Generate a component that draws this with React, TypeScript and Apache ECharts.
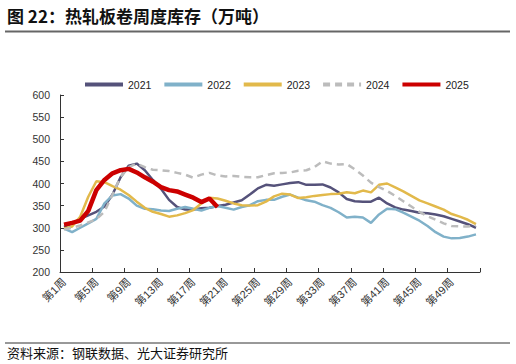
import React, { useEffect, useRef } from "react";
import * as echarts from "echarts";

const weeks: string[] = Array.from({ length: 52 }, (_, i) => `第${i + 1}周`);

const s2021 = [302, 310, 320, 328, 336, 348, 375, 414, 440, 445, 430, 408, 388, 363, 347, 341, 341, 344, 345, 349,
  352, 357, 362, 375, 389, 397, 395, 398, 401, 403, 397, 397, 398, 391, 380, 365, 360, 359, 359, 368,
  355, 346, 341, 338, 334, 333, 330, 326, 320, 314, 308, 300];
const s2022 = [298, 290, 300, 310, 320, 355, 373, 376, 366, 350, 343, 342, 339, 338, 343, 347, 343, 339, 345, 349,
  345, 341, 347, 351, 360, 363, 363, 370, 375, 368, 362, 359, 351, 345, 335, 323, 325, 323, 311, 330,
  343, 342, 334, 325, 316, 304, 290, 280, 276, 277, 280, 285];
const s2023 = [298, 303, 325, 370, 405, 403, 394, 386, 374, 359, 345, 336, 331, 325, 328, 333, 340, 355, 368, 366,
  361, 355, 351, 350, 351, 359, 371, 377, 375, 367, 369, 372, 374, 376, 377, 380, 378, 384, 380, 397,
  400, 391, 382, 372, 362, 355, 348, 341, 331, 325, 318, 308];
const s2024 = [296, 300, 305, 312, 319, 336, 375, 415, 437, 445, 437, 431, 430, 428, 424, 420, 413, 420, 424, 418,
  416, 417, 415, 414, 414, 419, 423, 424, 425, 429, 430, 437, 450, 445, 443, 444, 432, 418, 402, 392,
  383, 372, 360, 348, 336, 326, 318, 310, 304, 303, 303, 305];
const s2025 = [307, 311, 316, 338, 385, 408, 423, 430, 433, 425, 414, 404, 392, 385, 382, 375, 368, 358, 366, 347];

const yearNames = ["2021", "2022", "2023", "2024", "2025"];
const FONT = '"Liberation Sans", "Noto Sans CJK SC", sans-serif';

export default function App() {
  const ref = useRef<HTMLDivElement>(null);
  useEffect(() => {
    if (!ref.current) return;
    const chart = echarts.init(ref.current, null, { renderer: "svg" });
    const mk = (name: string, data: number[], color: string, width: number, type: any = "solid", z = 2) => ({
      name,
      type: "line",
      data,
      symbol: "none",
      smooth: false,
      z,
      lineStyle: { color, width, type },
      itemStyle: { color },
    });
    chart.setOption({
      animation: false,
      textStyle: { fontFamily: FONT },
      grid: { left: 60, right: 36, top: 95, bottom: 92, containLabel: false },
      legend: {
        data: yearNames,
        left: 78,
        top: 74,
        itemWidth: 38,
        itemHeight: 14,
        itemGap: 11,
        itemStyle: { opacity: 0 },
        lineStyle: { width: 4 },
        textStyle: { fontSize: 10.5, color: "#222", fontFamily: FONT },
      },
      xAxis: {
        type: "category",
        data: weeks,
        boundaryGap: true,
        axisLine: { lineStyle: { color: "#333", width: 1 } },
        axisTick: { show: true, inside: true, length: 4, interval: 3, lineStyle: { color: "#333" } },
        axisLabel: { interval: 3, rotate: 45, fontSize: 11, color: "#333", margin: 8, fontFamily: FONT },
        splitLine: { show: false },
      },
      yAxis: {
        type: "value",
        min: 200,
        max: 600,
        interval: 50,
        axisLine: { show: true, lineStyle: { color: "#333", width: 1 } },
        axisTick: { show: true, inside: true, length: 4, lineStyle: { color: "#333" } },
        axisLabel: { fontSize: 10.5, color: "#333", margin: 10, fontFamily: FONT },
        splitLine: { show: false },
      },
      series: [
        mk("2021", s2021, "#55527a", 2.5, "solid", 2),
        mk("2022", s2022, "#80b1c9", 2.5, "solid", 2),
        mk("2023", s2023, "#e2b94b", 2.5, "solid", 2),
        mk("2024", s2024, "#bcbcbc", 2.5, [7, 5], 3),
        mk("2025", s2025, "#cc0000", 4.5, "solid", 4),
      ],
      graphic: [
        {
          type: "text",
          left: 7,
          top: 7,
          style: { text: "图 22：热轧板卷周度库存（万吨）", fontSize: 17, fontWeight: "bold", fill: "#111", fontFamily: '"Noto Sans CJK SC", sans-serif' },
        },
        { type: "line", shape: { x1: 5, y1: 31.5, x2: 510, y2: 31.5 }, style: { stroke: "#666", lineWidth: 2 } },
        { type: "line", shape: { x1: 5, y1: 343, x2: 510, y2: 343 }, style: { stroke: "#333", lineWidth: 1 } },
        {
          type: "text",
          left: 7,
          top: 346,
          style: { text: "资料来源：钢联数据、光大证券研究所", fontSize: 13, fill: "#111", fontFamily: '"Noto Sans CJK SC", sans-serif' },
        },
      ],
    });
    return () => chart.dispose();
  }, []);
  return <div ref={ref} style={{ position: "fixed", left: 0, top: 0, width: 516, height: 364, background: "#fff" }} />;
}
